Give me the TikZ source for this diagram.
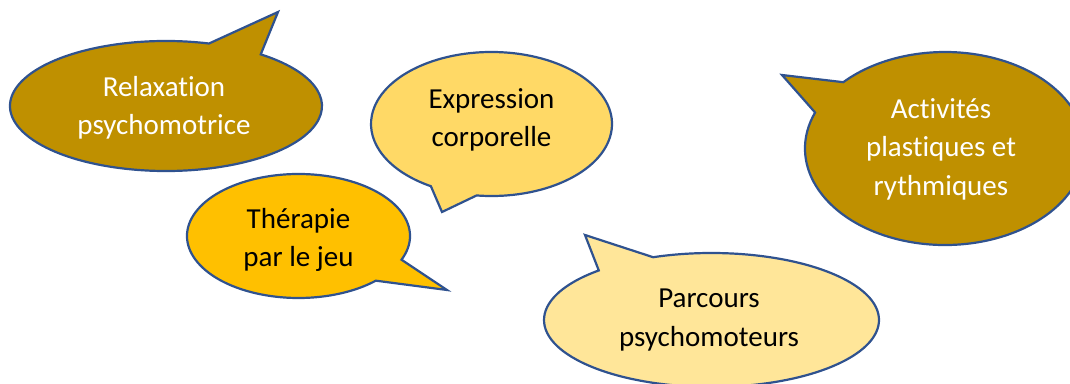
\documentclass[tikz,border=0pt]{standalone}
\usepackage{fontspec}
\setmainfont{Carlito}[Ligatures={NoCommon}]
\definecolor{dgold}{HTML}{BF9000}
\definecolor{gold}{HTML}{FFC000}
\definecolor{lgold}{HTML}{FFD966}
\definecolor{pgold}{HTML}{FFE699}
\definecolor{edge}{HTML}{2F528F}
\tikzset{
  bubble/.style={draw=edge, line width=2.2pt, line join=miter},
  lbl/.style={align=center, inner sep=0pt, font=\fontsize{29}{38.5}\selectfont},
}
\begin{document}
\begin{tikzpicture}[x=1pt,y=1pt]
\useasboundingbox (0,0) rectangle (1070,383);
% Relaxation psychomotrice
\coordinate (c1) at (166,277);
\coordinate (t1) at (278,371);
\path[bubble, fill=dgold] (c1) ++(74:156 and 65) arc[start angle=74, end angle=412.6, x radius=156, y radius=65] -- (t1) -- cycle;
\node[lbl, text=white] (relax) at (164,275) {Relaxation\\psychomotrice};
% Expression corporelle
\coordinate (c2) at (491.5,259);
\coordinate (t2) at (442,171);
\path[bubble, fill=lgold] (c2) ++(262.9:120.5 and 72) arc[start angle=262.9, end angle=599.8, x radius=120.5, y radius=72] -- (t2) -- cycle;
\node[lbl, text=black] (expr) at (491.5,263) {Expression\\corporelle};
% Therapie par le jeu
\coordinate (c3) at (298.5,147);
\coordinate (t3) at (447,93);
\path[bubble, fill=gold] (c3) ++(-22.5:111.5 and 62) arc[start angle=-22.5, end angle=313.9, x radius=111.5, y radius=62] -- (t3) -- cycle;
\node[lbl, text=black] (thera) at (298.5,143) {Thérapie\\par le jeu};
% Activites plastiques et rythmiques
\coordinate (c4) at (945,234.5);
\coordinate (t4) at (782,308);
\path[bubble, fill=dgold] (c4) ++(158.1:140 and 96.5) arc[start angle=158.1, end angle=496.6, x radius=140, y radius=96.5] -- (t4) -- cycle;
\node[lbl, text=white] (activ) at (941,234) {Activités\\plastiques et\\rythmiques};
% Parcours psychomoteurs
\coordinate (c5) at (711.5,63);
\coordinate (t5) at (585,148);
\path[bubble, fill=pgold] (c5) ++(132.3:167.5 and 67) arc[start angle=132.3, end angle=470.4, x radius=167.5, y radius=67] -- (t5) -- cycle;
\node[lbl, text=black] (parc) at (709,63) {Parcours\\psychomoteurs};
\end{tikzpicture}
\end{document}
